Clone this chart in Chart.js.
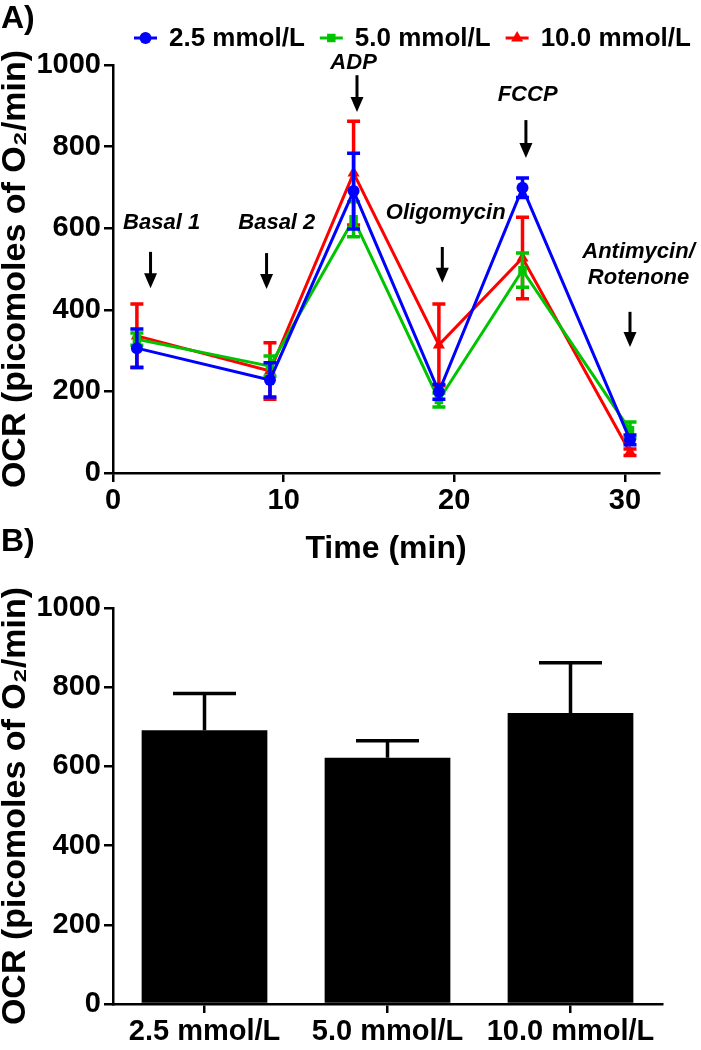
<!DOCTYPE html>
<html>
<head>
<meta charset="utf-8">
<script src="https://cdn.jsdelivr.net/npm/chart.js@4.4.1/dist/chart.umd.min.js"></script>
<style>
    body { margin: 0; background: #fff; width: 701px; height: 1050px; position: relative; overflow: hidden; }
    canvas { position: absolute; left: 0; }
    #chartA { top: 0; }
    #chartB { top: 540px; }
    .panel { position: absolute; left: 1px; font: bold 32px/32px "Liberation Sans", Arial, sans-serif; color: #000; }
</style>
</head>
<body>
<canvas id="chartA" width="701" height="565"></canvas>
<canvas id="chartB" width="701" height="510"></canvas>
<div class="panel" style="top:1px">A)</div>
<div class="panel" style="top:524px">B)</div>
<script>
// data
const timePoints = [1.4, 9.2, 14.1, 19.1, 24.0, 30.3];
const seriesNames = ['2.5 mmol/L', '5.0 mmol/L', '10.0 mmol/L'];
const ocr25 = [306, 228, 691, 199, 699, 81];
const sd25 = [47, 42, 93, 18, 24, 12];
const ocr50 = [328, 262, 622, 179, 497, 105];
const sd50 = [15, 25, 43, 17, 42, 20];
const ocr100 = [336, 250, 735, 314, 527, 51];
const sd100 = [78, 69, 127, 100, 100, 8];

const barLabels = ['2.5 mmol/L', '5.0 mmol/L', '10.0 mmol/L'];
const adpMean = [691, 622, 735];
const adpSd = [93, 43, 127];

const xTicksA = [0, 10, 20, 30];
const yTicks = [0, 200, 400, 600, 800, 1000];

const colors = ['#0000ff', '#00c400', '#ff0000'];
const FONT = '"Liberation Sans", Arial, sans-serif';

// arrows + labels on panel A (in data units)
const annotations = [
    { text: ['Basal 1'], tx: 2.85, ty: [613], ax: 2.2, top: 542, tip: 453 },
    { text: ['Basal 2'], tx: 9.6, ty: [613], ax: 9.0, top: 539, tip: 451 },
    { text: ['ADP'], tx: 14.1, ty: [1005], ax: 14.3, top: 975, tip: 885 },
    { text: ['Oligomycin'], tx: 19.5, ty: [637], ax: 19.3, top: 554, tip: 466 },
    { text: ['FCCP'], tx: 24.3, ty: [926], ax: 24.2, top: 865, tip: 772 },
    { text: ['Antimycin/', 'Rotenone'], tx: 30.8, ty: [542, 478], ax: 30.3, top: 395, tip: 309 }
];

function toPoints(values) {
    return values.map((v, i) => ({ x: timePoints[i], y: v }));
}

const errorBars = {
    id: 'errorBars',
    afterDatasetDraw(chart, args) {
        const ds = chart.data.datasets[args.index];
        if (!ds.sd) return;
        const ctx = chart.ctx;
        const yScale = chart.scales.y;
        ctx.save();
        ctx.strokeStyle = ds.errColor || ds.borderColor;
        ctx.lineWidth = ds.errWidth || 3;
        args.meta.data.forEach((el, j) => {
            const raw = ds.data[j];
            const v = typeof raw === 'object' ? raw.y : raw;
            const top = yScale.getPixelForValue(v + ds.sd[j]);
            const bottom = ds.upOnly ? yScale.getPixelForValue(v) : yScale.getPixelForValue(v - ds.sd[j]);
            const cap = ds.capWidth || 13;
            ctx.beginPath();
            ctx.moveTo(el.x, top);
            ctx.lineTo(el.x, bottom);
            ctx.moveTo(el.x - cap / 2, top);
            ctx.lineTo(el.x + cap / 2, top);
            if (!ds.upOnly) {
                ctx.moveTo(el.x - cap / 2, bottom);
                ctx.lineTo(el.x + cap / 2, bottom);
            }
            ctx.stroke();
        });
        ctx.restore();
    }
};

const arrowsPlugin = {
    id: 'arrows',
    afterDraw(chart) {
        const ctx = chart.ctx;
        const xs = chart.scales.x, ys = chart.scales.y;
        ctx.save();
        ctx.fillStyle = '#000';
        ctx.strokeStyle = '#000';
        ctx.font = `italic bold 22px ${FONT}`;
        ctx.textAlign = 'center';
        ctx.textBaseline = 'middle';
        annotations.forEach(a => {
            a.text.forEach((t, k) => {
                ctx.fillText(t, xs.getPixelForValue(a.tx), ys.getPixelForValue(a.ty[k]));
            });
            const x = xs.getPixelForValue(a.ax);
            const y0 = ys.getPixelForValue(a.top);
            const y1 = ys.getPixelForValue(a.tip);
            ctx.lineWidth = 3;
            ctx.beginPath();
            ctx.moveTo(x, y0);
            ctx.lineTo(x, y1 - 10);
            ctx.stroke();
            ctx.beginPath();
            ctx.moveTo(x - 6.5, y1 - 15);
            ctx.lineTo(x + 6.5, y1 - 15);
            ctx.lineTo(x, y1);
            ctx.closePath();
            ctx.fill();
        });
        ctx.restore();
    }
};

// legend drawn like the Prism one: short line with marker, then text
const legendPlugin = {
    id: 'lineLegend',
    afterDraw(chart) {
        const ctx = chart.ctx;
        const y = 38;
        let x = 134;
        ctx.save();
        ctx.font = `bold 26px ${FONT}`;
        ctx.textBaseline = 'middle';
        ctx.textAlign = 'left';
        chart.data.datasets.forEach(ds => {
            ctx.strokeStyle = ds.borderColor;
            ctx.fillStyle = ds.borderColor;
            ctx.lineWidth = 3;
            ctx.beginPath();
            ctx.moveTo(x, y);
            ctx.lineTo(x + 23, y);
            ctx.stroke();
            Chart.helpers.drawPoint(ctx, { pointStyle: ds.pointStyle, radius: ds.pointRadius, rotation: 0, borderWidth: 0 }, x + 11.5, y);
            ctx.fillStyle = '#000';
            ctx.fillText(ds.label, x + 35, y + 1);
            x += 35 + ctx.measureText(ds.label).width + 15;
        });
        ctx.restore();
    }
};

const axisStyle = {
    grid: { display: true, drawOnChartArea: false, drawTicks: true, tickLength: 9, color: '#000', lineWidth: 2.5 },
    border: { display: true, color: '#000', width: 2.5 }
};
const tickFont = { family: FONT, size: 29, weight: 'bold' };
const yTitle = {
    display: true,
    text: 'OCR (picomoles of O\u2082/min)',
    color: '#000',
    font: { family: FONT, size: 34, weight: 'bold', lineHeight: 0.9 },
    padding: { top: 0, bottom: 0 }
};

function makeYScale() {
    return {
        min: 0,
        max: 1000,
        afterBuildTicks: s => { s.ticks = yTicks.map(v => ({ value: v })); },
        afterFit: s => { s.width = 113; },
        ticks: { color: '#000', font: tickFont, padding: 3, callback: v => String(v) },
        title: yTitle,
        ...axisStyle
    };
}

function ds(label, values, sd, i, style, radius) {
    return {
        label: label,
        data: toPoints(values),
        sd: sd,
        borderColor: colors[i],
        backgroundColor: colors[i],
        borderWidth: 3,
        pointStyle: style,
        pointRadius: radius,
        pointBorderWidth: 0,
        capWidth: 13,
        errWidth: 3.5,
        clip: false
    };
}

new Chart(document.getElementById('chartA'), {
    type: 'line',
    data: {
        datasets: [
            ds(seriesNames[0], ocr25, sd25, 0, 'circle', 6),
            ds(seriesNames[1], ocr50, sd50, 1, 'rect', 6),
            ds(seriesNames[2], ocr100, sd100, 2, 'triangle', 7)
        ]
    },
    options: {
        responsive: false,
        animation: false,
        devicePixelRatio: 1,
        layout: { padding: { top: 65, right: 42, left: 0, bottom: 0 } },
        plugins: { legend: { display: false }, tooltip: { enabled: false } },
        scales: {
            x: {
                type: 'linear',
                min: 0,
                max: 32,
                afterBuildTicks: s => { s.ticks = xTicksA.map(v => ({ value: v })); },
                afterFit: s => { s.height = 565 - 473; },
                ticks: { color: '#000', font: tickFont, padding: 2, callback: v => String(v) },
                title: {
                    display: true,
                    text: 'Time (min)',
                    color: '#000',
                    font: { family: FONT, size: 32, weight: 'bold', lineHeight: 1 },
                    padding: { top: 4, bottom: 0 }
                },
                ...axisStyle
            },
            y: makeYScale()
        }
    },
    plugins: [errorBars, arrowsPlugin, legendPlugin]
});

new Chart(document.getElementById('chartB'), {
    type: 'bar',
    data: {
        labels: barLabels,
        datasets: [{
            data: adpMean,
            sd: adpSd,
            upOnly: true,
            backgroundColor: '#000',
            borderWidth: 0,
            errColor: '#000',
            errWidth: 3.5,
            capWidth: 63,
            barPercentage: 0.687,
            categoryPercentage: 1
        }]
    },
    options: {
        responsive: false,
        animation: false,
        devicePixelRatio: 1,
        layout: { padding: { top: 68, right: 39, left: 0, bottom: 0 } },
        plugins: { legend: { display: false }, tooltip: { enabled: false } },
        scales: {
            x: {
                afterFit: s => { s.height = 510 - 464; },
                ticks: { color: '#000', font: tickFont, padding: 2 },
                ...axisStyle,
                grid: { ...axisStyle.grid, offset: false }
            },
            y: makeYScale()
        }
    },
    plugins: [errorBars]
});
</script>
</body>
</html>
